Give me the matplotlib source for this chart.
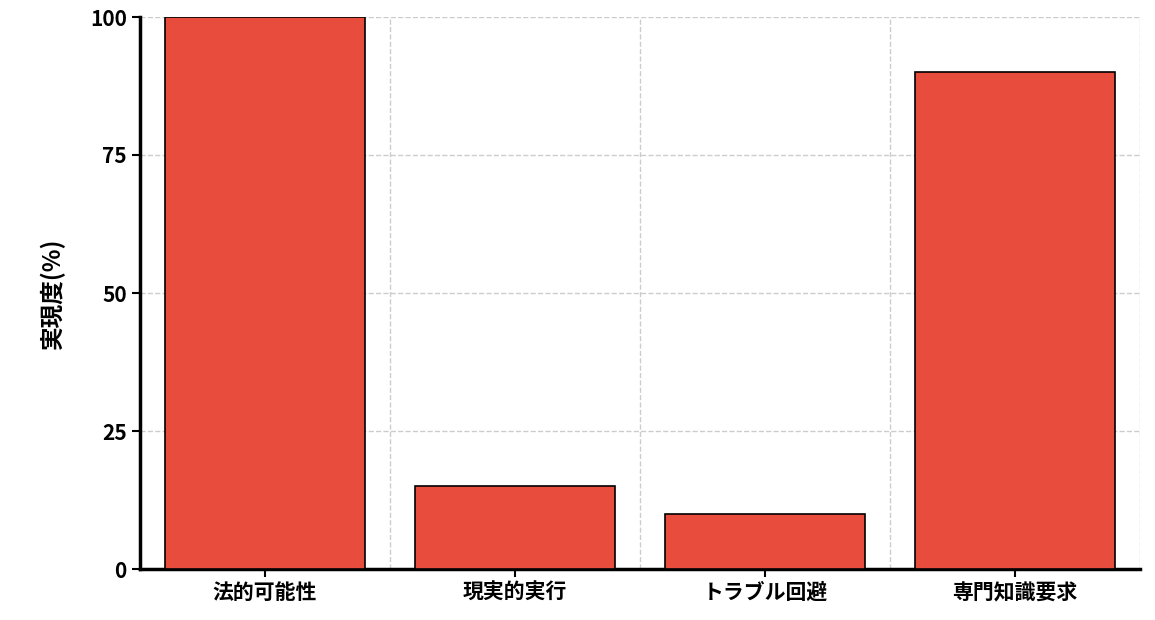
import matplotlib
matplotlib.use("Agg")
import matplotlib.pyplot as plt
from matplotlib.ticker import FixedLocator

plt.rcParams['font.family'] = ['Noto Sans CJK JP', 'DejaVu Sans']

categories = ["法的可能性", "現実的実行", "トラブル回避", "専門知識要求"]
values = [100, 15, 10, 90]
yticks = [0, 25, 50, 75, 100]

fig = plt.figure(figsize=(11.55, 6.2), dpi=100)
ax = fig.add_axes([140/1155, 1-569/620, 1000/1155, 552/620])
x = list(range(len(categories)))
ax.bar(x, values, width=0.8, color="#e74c3c", edgecolor="black", linewidth=1.2, zorder=3)
ax.set_xlim(-0.5, 3.5)
ax.set_ylim(0, 100)
ax.set_xticks(x)
ax.set_xticklabels(categories, fontsize=15, fontweight='bold')
ax.set_yticks(yticks)
ax.set_yticklabels([str(v) for v in yticks], fontsize=15, fontweight='bold')
ax.set_ylabel("実現度(%)", fontsize=17, fontweight='bold', labelpad=18)
ax.xaxis.set_minor_locator(FixedLocator([0.5, 1.5, 2.5, 3.5]))
ax.grid(True, which='minor', axis='x', linestyle='--', color='#cccccc', linewidth=1, zorder=0)
ax.grid(True, which='major', axis='y', linestyle='--', color='#cccccc', linewidth=1, zorder=0)
ax.tick_params(axis='x', which='minor', length=0)
ax.tick_params(axis='both', which='major', length=6, width=1.5)
for s in ['top', 'right']:
    ax.spines[s].set_visible(False)
for s in ['left', 'bottom']:
    ax.spines[s].set_linewidth(2.5)
fig.savefig("out.png", dpi=100)
